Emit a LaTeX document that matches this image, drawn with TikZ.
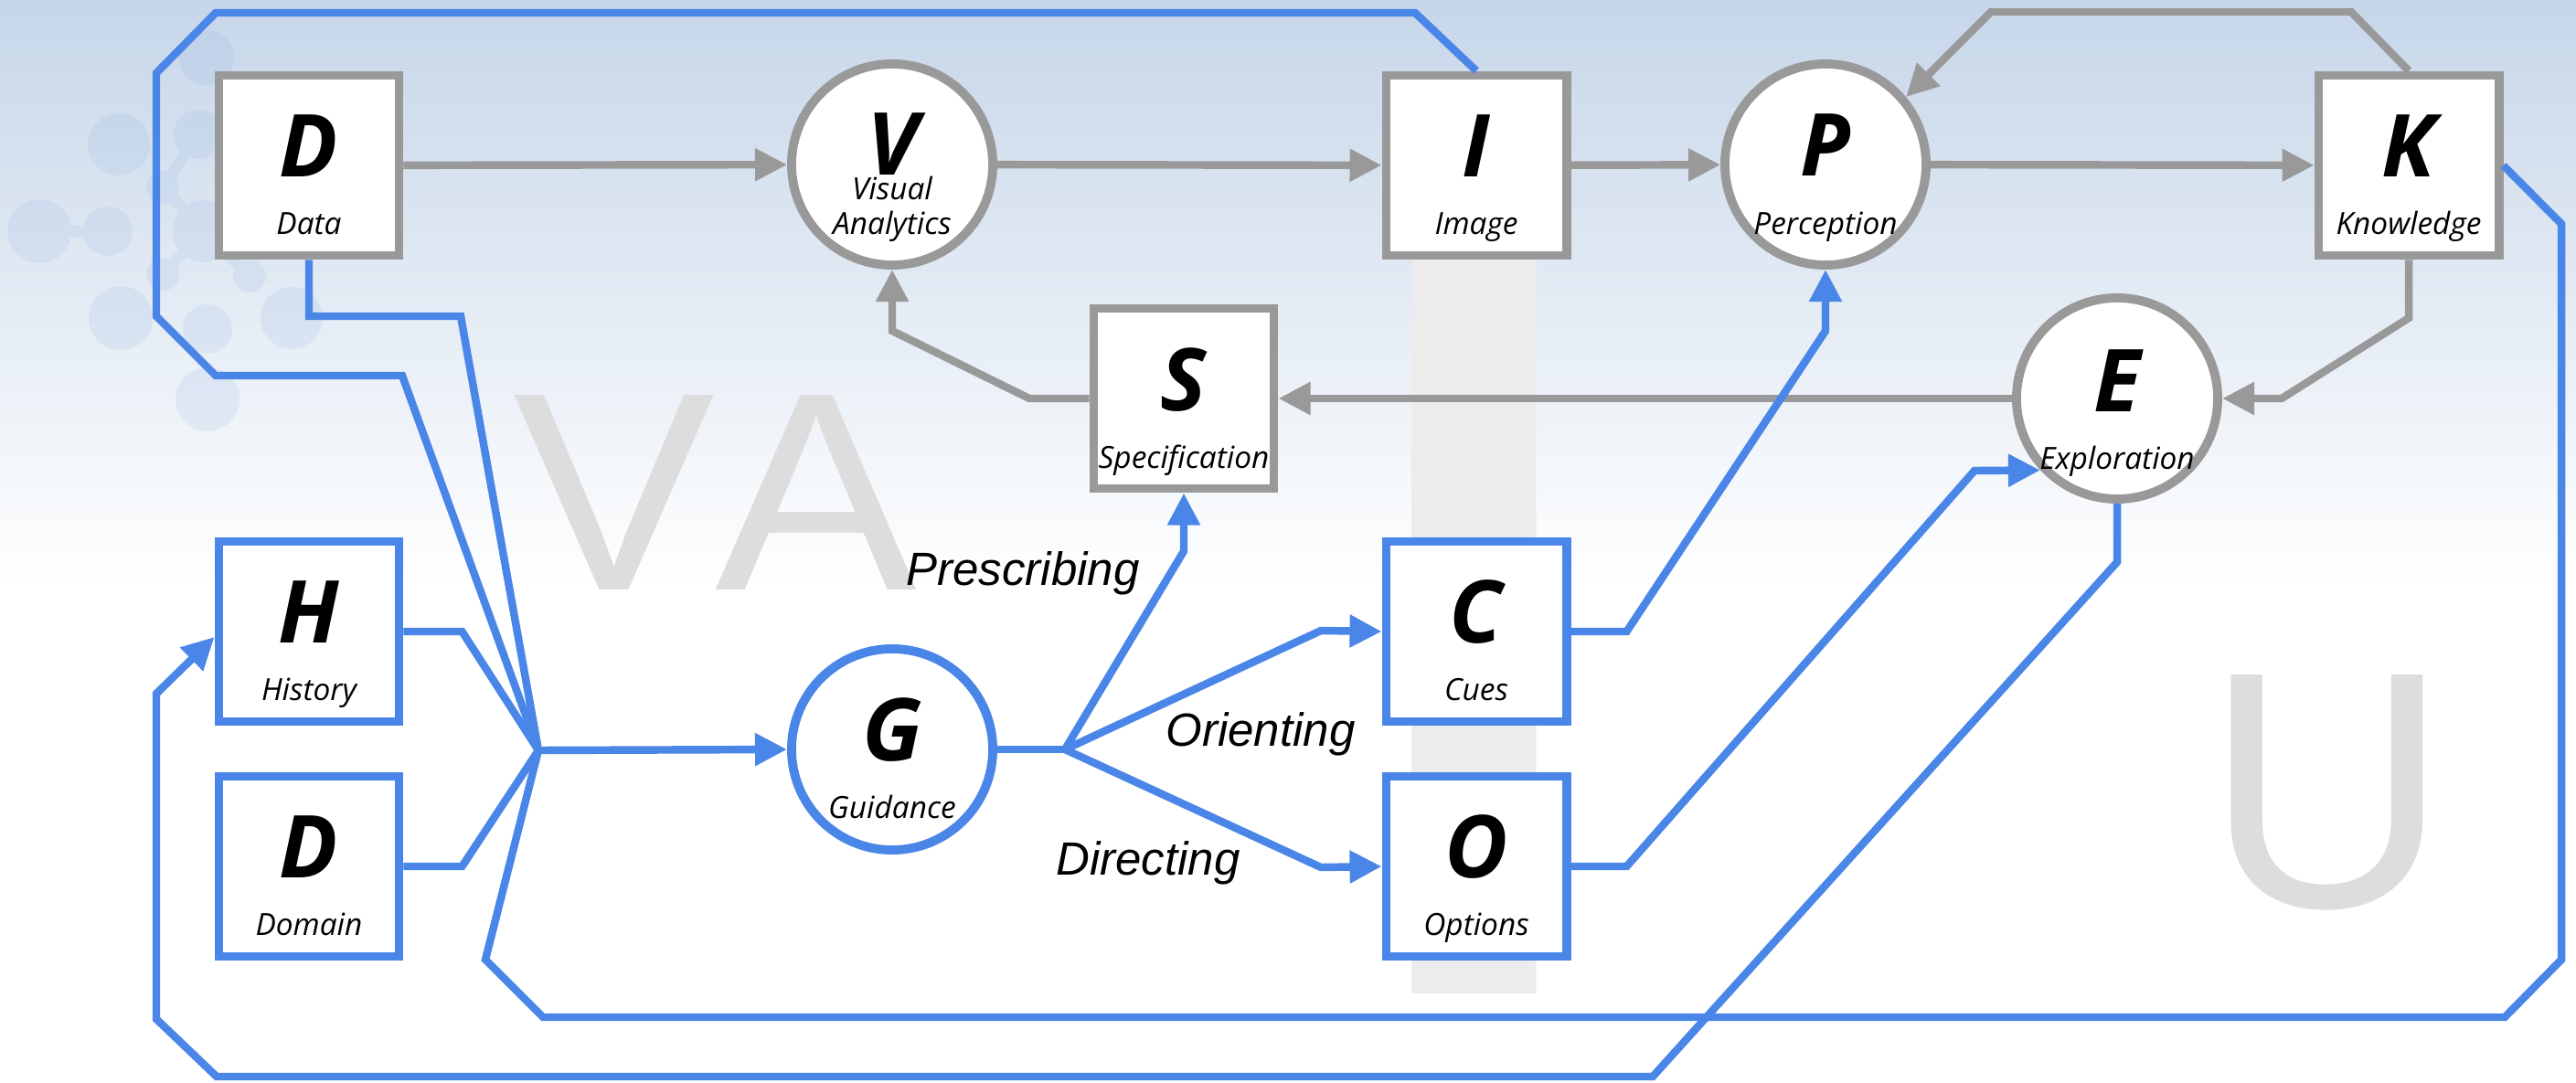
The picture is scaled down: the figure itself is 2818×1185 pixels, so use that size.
\documentclass[tikz,border=0pt]{standalone}
\usepackage{fontspec}
\setmainfont{Open Sans}
\newfontfamily\labelfont{Liberation Sans}
\newfontfamily\bigfont[Kerning=Off]{Liberation Sans}
\usetikzlibrary{arrows.meta}
\definecolor{vablue}{RGB}{74,134,232}
\definecolor{vagray}{RGB}{153,153,153}
\definecolor{bgtop}{RGB}{198,214,233}
\definecolor{bgmid}{RGB}{236,240,247}
\definecolor{dotcol}{RGB}{150,180,225}
\definecolor{bigA}{RGB}{221,221,221}
\definecolor{bigI}{RGB}{236,236,236}
\tikzset{
  tip/.style={-{Triangle[length=0.35cm,width=0.34cm]}},
  gpath/.style={vagray, line width=2.4pt},
  bpath/.style={vablue, line width=2.4pt},
  gline/.style={gpath, tip},
  bline/.style={bpath, tip},
  gbox/.style={draw=vagray, fill=white, line width=2.8pt, minimum size=1.97cm, inner sep=0pt},
  bbox/.style={gbox, draw=vablue},
  gcirc/.style={gbox, circle, minimum size=2.2cm},
  bcirc/.style={gcirc, draw=vablue},
  ltr/.style={anchor=base, inner sep=0pt, font=\fontsize{27}{27}\selectfont\bfseries\itshape},
  sub/.style={anchor=base, inner sep=0pt, font=\fontsize{9.5}{10}\selectfont\itshape},
  lbl/.style={anchor=base, font=\labelfont\fontsize{14.5}{16}\selectfont\itshape},
  big/.style={anchor=base, inner sep=0pt}
}

\begin{document}
\begin{tikzpicture}[x=0.01cm, y=-0.01cm]
  \useasboundingbox (0,0) rectangle (2818,1185);
  % background
  \fill[white] (0,0) rectangle (2818,1185);
  \shade[top color=bgtop, middle color=bgmid, bottom color=white] (0,0) rectangle (2818,640);
  \begin{scope}[transparency group, opacity=0.17]
    \foreach \x/\y/\r in {226/63/30, 217/147/27, 130/158/34, 178/205/18, 43/253/35, 118/253/27,
      223/253/34, 178/300/18, 273/302/18, 132/348/35, 227/360/27, 319/348/34, 227/437/35}
      \fill[dotcol] (\x,\y) circle[radius=\r];
    \draw[dotcol, line width=3.5pt] (43,253) -- (118,253) (178,205) -- (223,253) -- (178,300)
      (223,253) -- (273,302) (217,147) -- (178,205);
  \end{scope}
  \node[big, text=bigA, font=\bigfont\fontsize{88}{88}\selectfont] (bgVA) at (782,645) {\scalebox{1.07}[1]{VA}};
  \node[big, text=bigI, font=\bigfont\fontsize{416}{416}\selectfont] (bgI) at (1613,1087) {I};
  \node[big, text=bigA, font=\bigfont\fontsize{105}{105}\selectfont] (bgU) at (2546,992) {U};

  % top row
  \node[gbox] (Da) at (338,181) {};
  \node[ltr] (Da-l) at ([yshift=-0.12cm]Da.center) {D};
  \node[sub] (Da-s) at ([yshift=-0.75cm]Da.center) {Data};
  \node[gcirc] (V) at (976,180) {};
  \node[ltr] (V-l) at ([yshift=-0.11cm]V.center) {V};
  \node[sub] (V-s1) at ([yshift=-0.38cm]V.center) {Visual};
  \node[sub] (V-s2) at ([yshift=-0.76cm]V.center) {Analytics};
  \node[gbox] (I) at (1615,181) {};
  \node[ltr] (I-l) at ([yshift=-0.12cm]I.center) {I};
  \node[sub] (I-s) at ([yshift=-0.75cm]I.center) {Image};
  \node[gcirc] (P) at (1997,180) {};
  \node[ltr] (P-l) at ([yshift=-0.12cm]P.center) {P};
  \node[sub] (P-s) at ([yshift=-0.76cm]P.center) {Perception};
  \node[gbox] (K) at (2635,181) {};
  \node[ltr] (K-l) at ([yshift=-0.12cm]K.center) {K};
  \node[sub] (K-s) at ([yshift=-0.75cm]K.center) {Knowledge};
  % middle row
  \node[gbox] (S) at (1295,436) {};
  \node[ltr] (S-l) at ([yshift=-0.13cm]S.center) {S};
  \node[sub] (S-s) at ([yshift=-0.76cm]S.center) {Specification};
  \node[gcirc] (E) at (2316,436) {};
  \node[ltr] (E-l) at ([yshift=-0.14cm]E.center) {E};
  \node[sub] (E-s) at ([yshift=-0.77cm]E.center) {Exploration};
  % guidance part
  \node[bbox] (H) at (338,691) {};
  \node[ltr] (H-l) at ([yshift=-0.12cm]H.center) {H};
  \node[sub] (H-s) at ([yshift=-0.75cm]H.center) {History};
  \node[bbox] (Dm) at (338,948) {};
  \node[ltr] (Dm-l) at ([yshift=-0.12cm]Dm.center) {D};
  \node[sub] (Dm-s) at ([yshift=-0.75cm]Dm.center) {Domain};
  \node[bcirc] (G) at (976,820) {};
  \node[ltr] (G-l) at ([yshift=-0.12cm]G.center) {G};
  \node[sub] (G-s) at ([yshift=-0.75cm]G.center) {Guidance};
  \node[bbox] (C) at (1615,691) {};
  \node[ltr] (C-l) at ([yshift=-0.12cm]C.center) {C};
  \node[sub] (C-s) at ([yshift=-0.75cm]C.center) {Cues};
  \node[bbox] (O) at (1615,948) {};
  \node[ltr] (O-l) at ([yshift=-0.12cm]O.center) {O};
  \node[sub] (O-s) at ([yshift=-0.75cm]O.center) {Options};
  \coordinate (m) at (589,821);
  \coordinate (s) at (1165,820);

  % gray loop
  \draw[gline] (Da) -- (V);
  \draw[gline] (V) -- (I);
  \draw[gline] (I) -- (P);
  \draw[gline] (P) -- (K);
  \draw[gline] (K.north) -- (2572,13) -- (2178,13) -- (P.40);
  \draw[gline] (K.south) -- (2635,348) -- (2496,436) -- (E.east);
  \draw[gline] (E) -- (S);
  \draw[gline] (S.west) -- (1126,436) -- (976,362) -- (V.south);

  % blue inputs to guidance
  \draw[bpath] (I.north) -- (1548,14) -- (236,14) -- (171,80) -- (171,346) -- (236,411) -- (440,411) -- (m);
  \draw[bpath] (Da.south) -- (338,346) -- (504,346) -- (m);
  \draw[bpath] (H.east) -- ++(64,0) -- (m);
  \draw[bpath] (Dm.east) -- ++(64,0) -- (m);
  \draw[bpath] (K.east) -- (2802,245) -- (2802,1050) -- (2740,1113) -- (594,1113) -- (531,1050) -- (m);
  \draw[bline] (E.south) -- (2316,615) -- (1808,1178) -- (237,1178) -- (171,1115) -- (171,759) -- ([yshift=-0.06cm]H.west);
  \draw[bline] (m) -- (G.west);

  % guidance outputs
  \draw[bpath] (G.east) -- (s);
  \draw[bline] (s) -- (1295,603) -- (S.south);
  \draw[bline] (s) -- (1445,690) -- (C.west);
  \draw[bline] (s) -- (1445,949) -- (O.west);
  \draw[bline] (C.east) -- ++(61,0) -- (1997,362) -- (P.south);
  \draw[bline] (O.east) -- ++(61,0) -- (2160,515) -- (E.223);

  \node[lbl] (pres) at (1119,640) {Prescribing};
  \node[lbl] (orie) at (1379,816) {Orienting};
  \node[lbl] (dire) at (1256,957) {Directing};
\end{tikzpicture}
\end{document}
